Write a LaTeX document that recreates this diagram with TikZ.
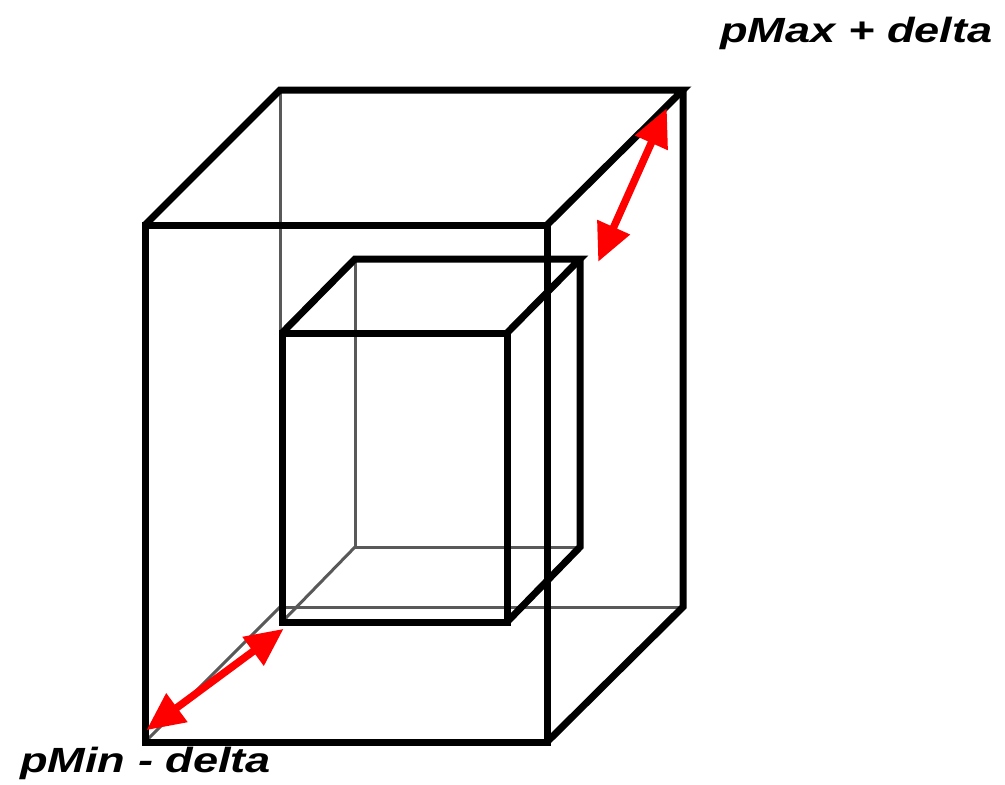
\documentclass[tikz,border=0pt]{standalone}
\usepackage{fontspec}
\setmainfont{Liberation Sans}
\newfontfamily\widesans[FakeStretch=1.29]{Liberation Sans}
\usetikzlibrary{arrows.meta}
\tikzset{
  edge/.style={draw=black, line width=7pt, line join=miter},
  hidden/.style={draw=black!65, line width=3pt},
  gap/.style={draw=red, line width=7.5pt, {Triangle[length=38pt,width=34pt]}-{Triangle[length=38pt,width=34pt]}, shorten <=-2pt, shorten >=-2pt},
  lbl/.style={font=\widesans\fontsize{35}{40}\selectfont\bfseries\itshape, inner sep=0pt}
}
\begin{document}
\begin{tikzpicture}[x=1pt,y=-1pt]
\useasboundingbox (0,0) rectangle (1005,785);
% outer box corners
\coordinate (OA) at (145,225);
\coordinate (OB) at (547,225);
\coordinate (OC) at (547,742);
\coordinate (OD) at (145,742);
\coordinate (OE) at (280,90);
\coordinate (OF) at (683,90);
\coordinate (OG) at (683,607);
\coordinate (OH) at (280,607);
% inner box corners
\coordinate (IA) at (282,333);
\coordinate (IB) at (507,333);
\coordinate (IC) at (507,622);
\coordinate (ID) at (282,622);
\coordinate (IE) at (355,259);
\coordinate (IF) at (580,259);
\coordinate (IG) at (580,547);
\coordinate (IH) at (355,547);
% hidden edges
\draw[hidden] (OE) -- (OH) -- (OG);
\draw[hidden] (OD) -- (OH);
\draw[hidden] (IE) -- (IH) -- (IG);
\draw[hidden] (ID) -- (IH);
% outer visible edges
\draw[edge] (OA) -- (OB) -- (OC) -- (OD) -- cycle;
\draw[edge] (OA) -- (OE) -- (OF) -- (OB);
\draw[edge] (OF) -- (OG) -- (OC);
% inner visible edges
\draw[edge] (IA) -- (IB) -- (IC) -- (ID) -- cycle;
\draw[edge] (IA) -- (IE) -- (IF) -- (IB);
\draw[edge] (IF) -- (IG) -- (IC);
% red arrows
\coordinate (T1) at (666,110);
\coordinate (T2) at (599,260);
\coordinate (B1) at (148,729);
\coordinate (B2) at (282,630);
\draw[gap] (T2) -- (T1);
\draw[gap] (B1) -- (B2);
% labels
\node[lbl, anchor=base west] (pmax) at (720,42) {pMax + delta};
\node[lbl, anchor=base west] (pmin) at (20,772) {pMin - delta};
\end{tikzpicture}
\end{document}
